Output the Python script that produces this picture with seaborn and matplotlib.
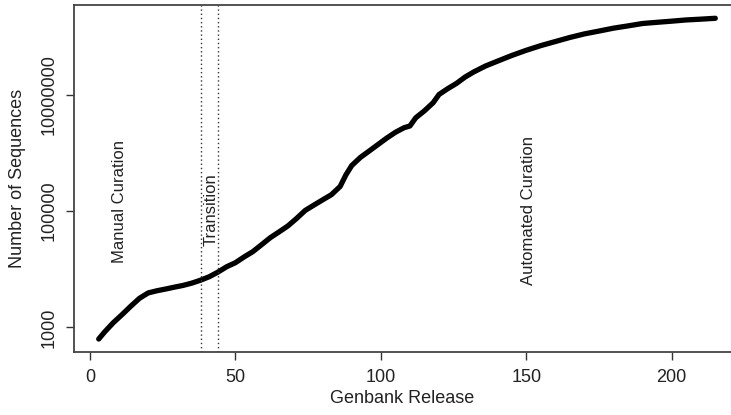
import pandas as pd
import seaborn as sns
import matplotlib.pyplot as plt
from matplotlib.ticker import FixedLocator, NullLocator

# Genbank releases and number of sequences
releases = [3, 5, 8, 11, 14, 17, 20, 23, 26, 29, 32, 35, 38, 41, 44, 47, 50,
            53, 56, 59, 62, 65, 68, 71, 74, 77, 80, 83, 86, 88, 90, 93, 96,
            99, 102, 105, 108, 110, 112, 115, 118, 120, 123, 126, 129, 132,
            136, 140, 145, 150, 155, 160, 165, 170, 175, 180, 185, 190, 195,
            200, 205, 210, 215]
sequences = [630, 830, 1200, 1650, 2300, 3150, 3900, 4250, 4550, 4900, 5250,
             5750, 6450, 7400, 8900, 11000, 12900, 16200, 20000, 26300, 34700,
             43600, 55000, 74000, 102000, 126000, 155000, 190000, 263000,
             417000, 603000, 832000, 1070000, 1380000, 1780000, 2240000,
             2690000, 2880000, 3980000, 5250000, 7240000, 10000000, 12600000,
             15500000, 20000000, 24500000, 30900000, 37200000, 46800000,
             57500000, 69200000, 81300000, 95500000, 110000000, 123000000,
             138000000, 151000000, 166000000, 174000000, 182000000,
             191000000, 197000000, 204000000]

transition_bounds = [38, 44]
y_ticks = [1000, 100000, 10000000]
y_ticklabels = ["1000", "100000", "10000000"]
x_ticks = [0, 50, 100, 150, 200]

df = pd.DataFrame({"release": releases, "sequences": sequences})

sns.set_style("white")
plt.rcParams['font.family'] = ['Liberation Sans', 'DejaVu Sans']

fig = plt.figure(figsize=(7.31, 4.15), dpi=100)
ax = fig.add_axes([74 / 731, 1 - 352 / 415, 1 - 74 / 731, 347 / 415])

sns.lineplot(data=df, x="release", y="sequences", ax=ax, color="black",
             linewidth=3.8, solid_capstyle="round")
ax.set_yscale("log")
ax.set_xlim(-5.5, 220.4)
ax.set_ylim(377, 3.45e8)

for xv in transition_bounds:
    ax.axvline(xv, color="#333333", linewidth=1.0, linestyle=(0, (1, 2)))

ax.text(10, 10 ** 5.17, "Manual Curation", rotation=90, ha="center",
        va="center", fontsize=12, color="#222222")
ax.text(41.5, 10 ** 5.02, "Transition", rotation=90, ha="center",
        va="center", fontsize=12, color="#222222")
ax.text(150.7, 10 ** 5.0, "Automated Curation", rotation=90, ha="center",
        va="center", fontsize=12, color="#222222")

ax.yaxis.set_major_locator(FixedLocator(y_ticks))
ax.yaxis.set_minor_locator(NullLocator())
ax.set_yticklabels(y_ticklabels, rotation=90, va="center")
ax.set_xticks(x_ticks)

ax.tick_params(axis="both", direction="out", length=6, width=1,
               color="#333333", labelsize=13, labelcolor="#222222",
               left=True, bottom=True, pad=6)

for side in ["left", "bottom", "top"]:
    ax.spines[side].set_color("#444444")
    ax.spines[side].set_linewidth(1.3)
ax.spines["right"].set_visible(False)

ax.set_xlabel("Genbank Release", fontsize=13, color="#222222", labelpad=3)
ax.set_ylabel("Number of Sequences", fontsize=13, color="#222222",
              labelpad=10)

fig.savefig("out.png", dpi=100)
